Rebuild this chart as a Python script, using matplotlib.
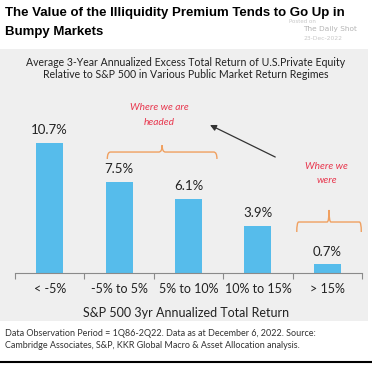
import matplotlib
matplotlib.use("Agg")
import matplotlib.pyplot as plt
from matplotlib.patches import Rectangle
from matplotlib.path import Path
from matplotlib.patches import PathPatch

categories = ["< -5%", "-5% to 5%", "5% to 10%", "10% to 15%", "> 15%"]
values = [10.7, 7.5, 6.1, 3.9, 0.7]
value_labels = ["10.7%", "7.5%", "6.1%", "3.9%", "0.7%"]

W, H = 372, 366
fig = plt.figure(figsize=(W/100, H/100), dpi=100)
fig.patch.set_facecolor("white")

def fx(px):
    return px / W
def fy(py):
    return 1 - py / H

# gray panel
fig.patches.append(Rectangle((0, fy(321)), fx(368), fy(49) - fy(321),
                             transform=fig.transFigure, facecolor="#EFEFEF",
                             edgecolor="none", zorder=-10))
# bottom black rule
fig.lines.append(plt.Line2D([0, 1], [fy(362), fy(362)], transform=fig.transFigure,
                            color="black", lw=1.5))

main_font = "Lato"

fig.text(fx(5), fy(13), "The Value of the Illiquidity Premium Tends to Go Up in",
         fontsize=9.5, fontweight="bold", family="Liberation Sans", va="center", ha="left")
fig.text(fx(5), fy(32), "Bumpy Markets",
         fontsize=9.5, fontweight="bold", family="Liberation Sans", va="center", ha="left")

wm = "#B5B5B5"
fig.text(fx(289), fy(21.5), "Posted on", fontsize=4.0, color="#C8C8C8", va="center")
fig.text(fx(303), fy(29), "The Daily Shot", fontsize=5.3, color=wm, va="center")
fig.text(fx(303), fy(39), "23-Dec-2022", fontsize=4.3, color="#C8C8C8", va="center")

fig.text(fx(186), fy(62), "Average 3-Year Annualized Excess Total Return of U.S.Private Equity",
         fontsize=7.6, family=main_font, ha="center", va="center", color="#222222")
fig.text(fx(186), fy(75), "Relative to S&P 500 in Various Public Market Return Regimes",
         fontsize=7.6, family=main_font, ha="center", va="center", color="#222222")

ax_left, ax_right = 15, 362
base_y = 273
top_y = 100
ax = fig.add_axes([fx(ax_left), fy(base_y), fx(ax_right - ax_left), fy(top_y) - fy(base_y)])
ax.set_facecolor("none")
ppu = (base_y - top_y)
ax.set_ylim(0, ppu / 12.17)
ax.set_xlim(-0.5, len(categories) - 0.5)

x = list(range(len(categories)))
ax.bar(x, values, width=0.39, color="#56BCEB", zorder=2)
for xi, v, lab in zip(x, values, value_labels):
    ax.text(xi, v + 0.55, lab, ha="center", va="bottom", fontsize=9.5,
            family=main_font, color="#222222")

for s in ["top", "right", "left"]:
    ax.spines[s].set_visible(False)
ax.spines["bottom"].set_color("#8A8A8A")
ax.spines["bottom"].set_linewidth(0.8)
ax.set_yticks([])
ax.set_xticks([i - 0.5 for i in range(len(categories) + 1)])
ax.set_xticklabels([])
ax.tick_params(axis="x", which="major", direction="out", length=4, color="#8A8A8A", width=0.8)
ax.set_xticks(x, minor=True)
ax.set_xticklabels(categories, minor=True, fontsize=9, family=main_font, color="#222222")
ax.tick_params(axis="x", which="minor", length=0, pad=7)

fig.text(fx(186), fy(313), "S&P 500 3yr Annualized Total Return", fontsize=9,
         family=main_font, ha="center", va="center", color="#222222")

fig.text(fx(5), fy(333), "Data Observation Period = 1Q86-2Q22. Data as at December 6, 2022. Source:",
         fontsize=6.5, family=main_font, ha="left", va="center", color="#333333")
fig.text(fx(5), fy(345), "Cambridge Associates, S&P, KKR Global Macro & Asset Allocation analysis.",
         fontsize=6.5, family=main_font, ha="left", va="center", color="#333333")

# braces
brace_col = "#F0A060"
def brace(x0, x1, yb, yh, yp):
    xm = (x0 + x1) / 2
    r = (x1 - x0) * 0.03
    verts = [(x0, yb), (x0, yh), (x0 + r, yh), (xm - r, yh), (xm, yh), (xm, yp),
             (xm, yh), (xm + r, yh), (x1 - r, yh), (x1, yh), (x1, yb)]
    codes = [Path.MOVETO, Path.CURVE3, Path.CURVE3, Path.LINETO, Path.CURVE3, Path.CURVE3,
             Path.CURVE3, Path.CURVE3, Path.LINETO, Path.CURVE3, Path.CURVE3]
    ax.add_patch(PathPatch(Path(verts, codes), facecolor="none", edgecolor=brace_col,
                           lw=1.0, clip_on=False))

brace(0.83, 2.41, 9.37, 9.94, 10.5)
brace(3.56, 4.49, 3.37, 4.19, 5.18)

red = "#E8384F"
ax.text(1.58, 13.56, "Where we are", ha="center", va="center", fontsize=7.3,
        style="italic", family=main_font, color=red)
ax.text(1.58, 12.4, "headed", ha="center", va="center", fontsize=7.3,
        style="italic", family=main_font, color=red)
ax.text(3.99, 8.71, "Where we", ha="center", va="center", fontsize=7.3,
        style="italic", family=main_font, color=red)
ax.text(3.99, 7.64, "were", ha="center", va="center", fontsize=7.3,
        style="italic", family=main_font, color=red)

ax.annotate("", xy=(2.31, 12.16), xytext=(3.25, 9.53),
            arrowprops=dict(arrowstyle="-|>", color="#333333", lw=0.9,
                            mutation_scale=9, shrinkA=0, shrinkB=0))

fig.savefig("out.png", dpi=100, facecolor="white")
